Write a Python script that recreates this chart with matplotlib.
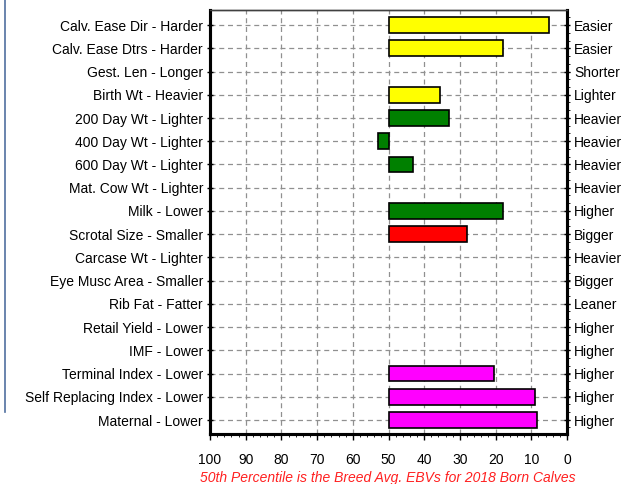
import numpy as np
import matplotlib.pyplot as plt
from matplotlib.ticker import MultipleLocator
from matplotlib.lines import Line2D

plt.rcParams['font.family'] = ['Liberation Sans', 'DejaVu Sans']

# Traits (left labels), direction words (right labels), percentile bands
traits = ["Calv. Ease Dir - Harder", "Calv. Ease Dtrs - Harder", "Gest. Len - Longer",
          "Birth Wt - Heavier", "200 Day Wt - Lighter", "400 Day Wt - Lighter",
          "600 Day Wt - Lighter", "Mat. Cow Wt - Lighter", "Milk - Lower",
          "Scrotal Size - Smaller", "Carcase Wt - Lighter", "Eye Musc Area - Smaller",
          "Rib Fat - Fatter", "Retail Yield - Lower", "IMF - Lower",
          "Terminal Index - Lower", "Self Replacing Index - Lower", "Maternal - Lower"]
better = ["Easier", "Easier", "Shorter", "Lighter", "Heavier", "Heavier", "Heavier",
          "Heavier", "Higher", "Bigger", "Heavier", "Bigger", "Leaner", "Higher",
          "Higher", "Higher", "Higher", "Higher"]
percentile = [5, 18, 50, 35.6, 33, 53, 43, 50, 18, 28, 50, 50, 50, 50, 50, 20.5, 9, 8.5]
colors = ["#FFFF00", "#FFFF00", "#FFFF00", "#FFFF00", "#008000", "#008000", "#008000",
          "#008000", "#008000", "#FF0000", "#FF00FF", "#FF00FF", "#FF00FF", "#FF00FF",
          "#FF00FF", "#FF00FF", "#FF00FF", "#FF00FF"]
base = 50

fig = plt.figure(figsize=(6.33, 4.84), dpi=100)
ax = fig.add_axes([210/633, 1 - 434/484, 357/633, 424/484])

y = np.arange(len(traits))
widths = [p - base for p in percentile]
for yi, w, c in zip(y, widths, colors):
    if w != 0:
        ax.barh(yi, w, left=base, height=0.68, color=c, edgecolor='black',
                linewidth=1.2, zorder=3)

ax.set_xlim(100, 0)
ax.set_ylim(len(traits) - 0.4, -0.65)
ax.xaxis.set_major_locator(MultipleLocator(10))
ax.xaxis.set_minor_locator(MultipleLocator(2))
ax.set_yticks(y)
ax.set_yticklabels(traits, fontsize=10)
ax.tick_params(axis='x', labelsize=10, direction='out', length=4, width=1, pad=10)
ax.tick_params(axis='x', which='minor', length=2)
ax.tick_params(axis='y', length=4, width=1, direction='inout', pad=3)
ax.grid(True, linestyle=(0, (4, 3)), color='#909090', linewidth=0.9, zorder=0)

ax2 = ax.twinx()
ax2.set_ylim(ax.get_ylim())
ax2.set_yticks(y)
ax2.set_yticklabels(better, fontsize=10)
ax2.yaxis.set_minor_locator(MultipleLocator(0.333))
ax2.tick_params(axis='y', length=4, width=1, direction='inout', pad=3)
ax2.tick_params(axis='y', which='minor', length=2, direction='out')

for a in (ax, ax2):
    a.spines['left'].set_linewidth(2.2)
    a.spines['right'].set_linewidth(2.2)
    a.spines['bottom'].set_linewidth(2.2)
    a.spines['top'].set_linewidth(1)
    a.spines['top'].set_color('#404040')

fig.text(388/633, 1 - 478/484, "50th Percentile is the Breed Avg. EBVs for 2018 Born Calves",
         color='#FF2020', style='italic', fontsize=10, ha='center', va='center')

fig.add_artist(Line2D([5/633, 5/633], [1, 1 - 412/484], color='#5070A0', linewidth=1.2))

fig.savefig('out.png', dpi=100)
